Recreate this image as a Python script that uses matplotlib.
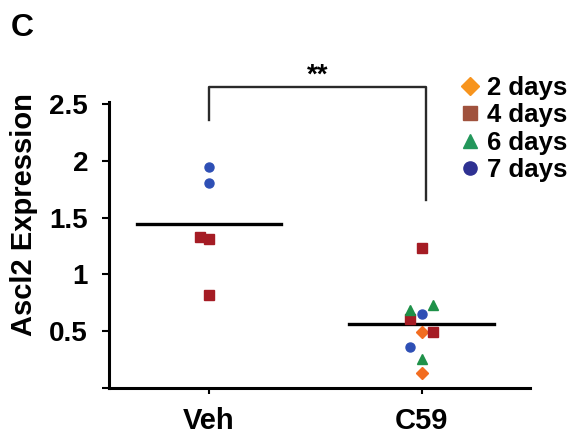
import matplotlib
matplotlib.use("Agg")
import matplotlib.pyplot as plt
from matplotlib.lines import Line2D
import numpy as np

plt.rcParams['font.family'] = ['Liberation Sans', 'DejaVu Sans']
plt.rcParams['font.weight'] = 'bold'

groups = ["Veh", "C59"]
series = ["2 days", "4 days", "6 days", "7 days"]

# Ascl2 expression per group and time point
veh_vals = {
    "2 days": [],
    "4 days": [1.333, 1.316, 0.816],
    "6 days": [],
    "7 days": [1.947, 1.807],
}
c59_vals = {
    "2 days": [0.491, 0.132],
    "4 days": [1.237, 0.605, 0.491],
    "6 days": [0.684, 0.728, 0.254],
    "7 days": [0.649, 0.36],
}
# horizontal spread of the points around each group centre
veh_jit = {"4 days": [-0.04, 0.0, 0.0], "7 days": [0.0, 0.0]}
c59_jit = {
    "2 days": [0.0, 0.0],
    "4 days": [0.0, -0.056, 0.056],
    "6 days": [-0.056, 0.056, 0.0],
    "7 days": [0.0, -0.056],
}
pvalue_label = "**"

markers = {"2 days": "D", "4 days": "s", "6 days": "^", "7 days": "o"}
msizes = {"2 days": 6.3, "4 days": 6.5, "6 days": 7, "7 days": 6.5}
pt_colors = {"2 days": "#f26d21", "4 days": "#a51c24", "6 days": "#1f9149", "7 days": "#2e4fb5"}
leg_colors = {"2 days": "#f7941d", "4 days": "#a0523d", "6 days": "#23975b", "7 days": "#2e3192"}

fig = plt.figure(figsize=(5.73, 4.38), dpi=100)
ax = fig.add_axes([0.190, 0.1142, 0.735, 0.653])

for gi, (vals, jit) in enumerate([(veh_vals, veh_jit), (c59_vals, c59_jit)]):
    x0 = gi + 1
    allv = []
    for s in series:
        v = vals[s]
        if not v:
            continue
        xs = x0 + np.array(jit[s])
        ax.plot(xs, v, linestyle="none", marker=markers[s], ms=msizes[s],
                color=pt_colors[s], mec=pt_colors[s], clip_on=False, zorder=3)
        allv += v
    ax.plot([x0 - 0.34, x0 + 0.34], [np.mean(allv)] * 2, color="black", lw=2.4, zorder=2)

# significance bracket
ax.plot([1.0, 1.0, 2.02, 2.02], [2.36, 2.65, 2.65, 1.66], color="#2a2a2a", lw=1.7,
        clip_on=False)
ax.text(1.51, 2.64, pvalue_label, ha="center", va="bottom", fontsize=20, fontweight="bold")

ax.set_xlim(0.53, 2.51)
ax.set_ylim(0, 2.52)
ax.set_xticks([1, 2])
ax.set_xticklabels(groups, fontsize=21, fontweight="bold")
ax.set_yticks([0, 0.5, 1, 1.5, 2, 2.5])
ax.set_yticklabels(["", "0.5", "1", "1.5", "2", "2.5"], fontsize=20, fontweight="bold")
ax.tick_params(axis="y", length=5, width=1.5, pad=10)
ax.tick_params(axis="x", length=4, width=1.5, pad=10)
ax.set_ylabel("Ascl2 Expression", fontsize=21, fontweight="bold")
ax.yaxis.set_label_coords(-0.169, 0.605)

for sp in ["top", "right"]:
    ax.spines[sp].set_visible(False)
for sp in ["left", "bottom"]:
    ax.spines[sp].set_linewidth(2.2)

handles = [Line2D([], [], linestyle="none", marker=markers[s], color=leg_colors[s],
                  ms=msizes[s] + 3) for s in series]
fig.legend(handles, series, loc="upper left", bbox_to_anchor=(0.782, 0.855),
           frameon=False, prop={"weight": "bold", "size": 18.5},
           handlelength=0.7, handletextpad=0.3, labelspacing=0.12, borderpad=0)

fig.text(0.038, 0.935, "C", fontsize=23, fontweight="bold", ha="center", va="center")

fig.savefig("out.png", dpi=100)
